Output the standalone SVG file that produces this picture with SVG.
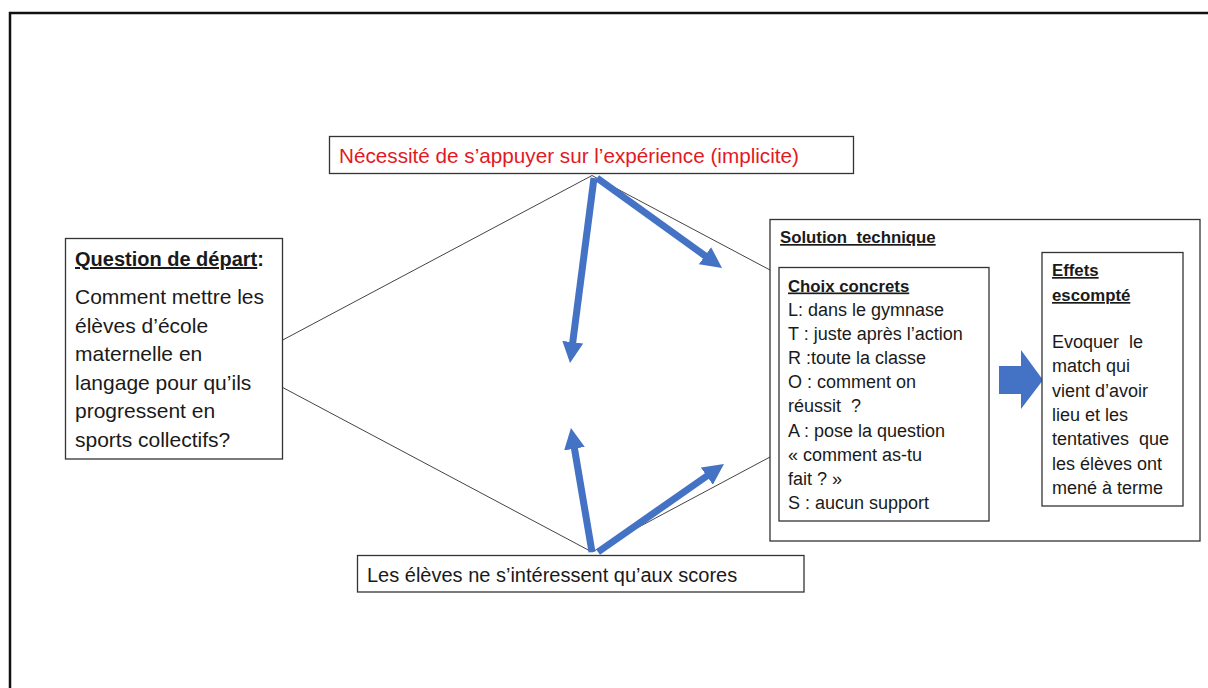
<svg xmlns="http://www.w3.org/2000/svg" width="1208" height="688" viewBox="0 0 1208 688">
  <style>
    .box { fill: #ffffff; stroke: #333333; stroke-width: 1.3; }
    .t { font-family: "Liberation Sans", Arial, sans-serif; fill: #1a1a1a; }
    .b { font-weight: bold; }
    .u { text-decoration: underline; }
    .pre { white-space: pre; }
    .thin { stroke: #444444; stroke-width: 1; fill: none; }
    .blue { stroke: #4472C4; stroke-width: 7; fill: none; marker-end: url(#head); }
  </style>
  <defs>
    <marker id="head" markerUnits="userSpaceOnUse" markerWidth="22" markerHeight="22" refX="1" refY="10.5" orient="auto">
      <path d="M0,0 L21,10.5 L0,21 z" fill="#4472C4"/>
    </marker>
  </defs>
  <rect x="0" y="0" width="1208" height="688" fill="#ffffff"/>
  <rect x="10" y="13" width="1210" height="690" fill="none" stroke="#111111" stroke-width="2.5"/>

  <g id="connectors">
    <polyline class="thin" points="282.7,340 592,175.5 770,270"/>
    <polyline class="thin" points="282.7,387.5 592,552 770,457"/>
    <line class="blue" x1="594" y1="178" x2="572.6" y2="343.2"/>
    <line class="blue" x1="597" y1="178" x2="705.8" y2="256.3"/>
    <line class="blue" x1="592" y1="552" x2="574.3" y2="447.7"/>
    <line class="blue" x1="598" y1="552" x2="707.6" y2="475.5"/>
  </g>

  <g id="node-necessite">
    <rect class="box" x="329.5" y="136.5" width="524" height="37"/>
    <text class="t" x="339" y="163" font-size="20.7" style="fill:#e3191f">Nécessité de s’appuyer sur l’expérience (implicite)</text>
  </g>

  <g id="node-question">
    <rect class="box" x="65.5" y="238.5" width="217" height="220.5"/>
    <text class="t b" x="75" y="266" font-size="20"><tspan class="u">Question de départ</tspan>:</text>
    <text class="t" font-size="21"><tspan x="75" y="304">Comment mettre les</tspan><tspan x="75" y="332.6">élèves d’école</tspan><tspan x="75" y="361.2">maternelle en</tspan><tspan x="75" y="389.8">langage pour qu’ils</tspan><tspan x="75" y="418.4">progressent en</tspan><tspan x="75" y="447">sports collectifs?</tspan></text>
  </g>

  <g id="node-eleves">
    <rect class="box" x="357.5" y="555.5" width="446.5" height="36.5"/>
    <text class="t" x="367" y="582" font-size="20">Les élèves ne s’intéressent qu’aux scores</text>
  </g>

  <g id="node-solution">
    <rect class="box" x="770" y="219.5" width="430" height="321.5"/>
    <text class="t b u pre" x="780" y="243" font-size="16.8">Solution  technique</text>
  </g>

  <g id="node-choix">
    <rect class="box" x="779" y="267.5" width="210" height="253.5"/>
    <text class="t b u" x="788" y="291.5" font-size="16.8">Choix concrets</text>
    <text class="t pre" font-size="18"><tspan x="788" y="316">L: dans le gymnase</tspan><tspan x="788" y="340.1">T : juste après l’action</tspan><tspan x="788" y="364.2">R :toute la classe</tspan><tspan x="788" y="388.3">O : comment on</tspan><tspan x="788" y="412.4">réussit  ?</tspan><tspan x="788" y="436.5">A : pose la question</tspan><tspan x="788" y="460.6">« comment as-tu</tspan><tspan x="788" y="484.7">fait ? »</tspan><tspan x="788" y="508.8">S : aucun support</tspan></text>
  </g>

  <g id="node-fleche">
    <polygon points="999,366 1021,366 1021,350 1043,380 1021,409 1021,394 999,394" fill="#4472C4"/>
  </g>

  <g id="node-effets">
    <rect class="box" x="1042" y="252.5" width="141" height="253.5"/>
    <text class="t b u" font-size="16.8"><tspan x="1052" y="276">Effets</tspan><tspan x="1052" y="301">escompté</tspan></text>
    <text class="t pre" font-size="18"><tspan x="1052" y="348">Evoquer  le</tspan><tspan x="1052" y="372.3">match qui</tspan><tspan x="1052" y="396.6">vient d’avoir</tspan><tspan x="1052" y="420.9">lieu et les</tspan><tspan x="1052" y="445.2">tentatives  que</tspan><tspan x="1052" y="469.5">les élèves ont</tspan><tspan x="1052" y="493.8">mené à terme</tspan></text>
  </g>
</svg>
